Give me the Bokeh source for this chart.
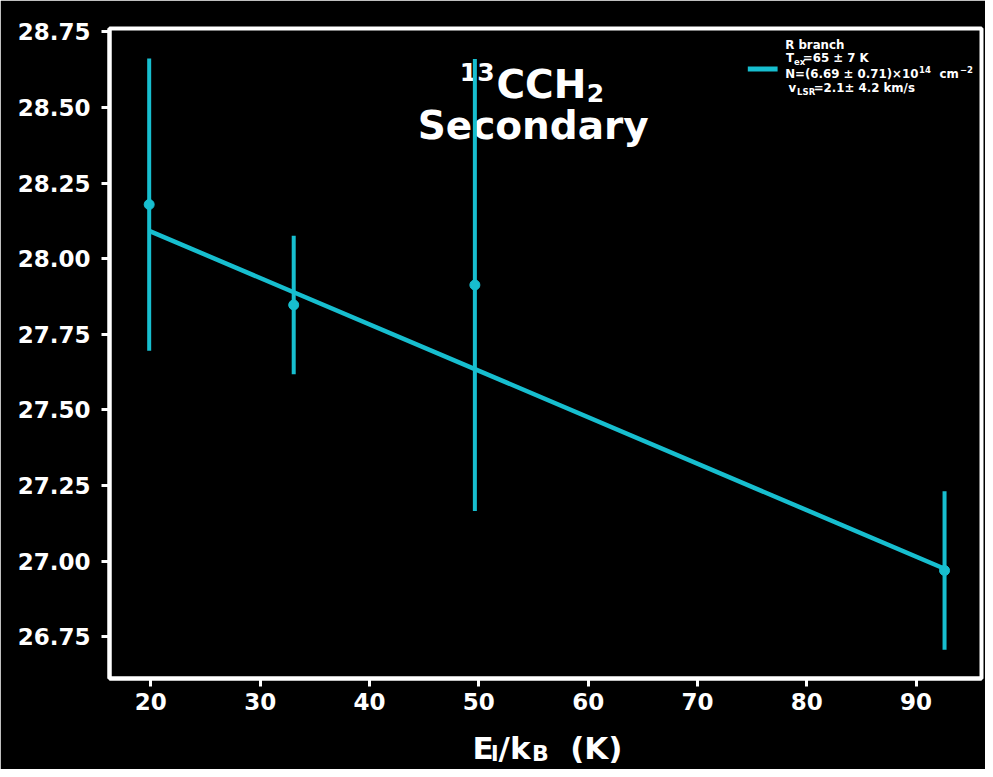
from bokeh.plotting import figure
from bokeh.models import (Label, BoxAnnotation, FixedTicker, NumeralTickFormatter,
                          ColumnDataSource, Range1d, LinearAxis)
from bokeh.embed import file_html
from bokeh.resources import INLINE

# ---- data ----
energy = [19.85, 33.07, 49.64, 92.60]          # E_l/k_B (K)
ln_val = [28.179, 27.847, 27.913, 26.969]      # y values
ln_err = [0.483, 0.229, 0.747, 0.262]          # symmetric errors
fit_val = [28.092, 27.889, 27.635, 26.975]     # fitted line at each energy
x_ticks = [20, 30, 40, 50, 60, 70, 80, 90]
y_ticks = [26.75, 27.00, 27.25, 27.50, 27.75, 28.00, 28.25, 28.50, 28.75]
# x-axis title pieces (text, position along the axis)
xlabel_main = {50.38: "E", 53.27: "/k", 60.75: "(K)"}
xlabel_sub = {51.47: "l", 55.63: "B"}

CYAN = "#17becf"
FONT = "DejaVu Sans"

src = ColumnDataSource(dict(
    x=energy, y=ln_val,
    lo=[v - e for v, e in zip(ln_val, ln_err)],
    hi=[v + e for v, e in zip(ln_val, ln_err)],
    fit=fit_val,
))

p = figure(width=985, height=769,
           x_range=Range1d(16.22, 95.98), y_range=Range1d(26.612, 28.761),
           output_backend="svg", toolbar_location=None,
           min_border_left=109, min_border_right=4,
           min_border_top=28, min_border_bottom=91)
p.background_fill_color = "black"
p.border_fill_color = "black"
p.outline_line_color = "white"
p.outline_line_width = 4
p.grid.visible = False

for ax in (p.xaxis, p.yaxis):
    ax.axis_line_color = "white"
    ax.axis_line_width = 4
    ax.major_tick_line_color = "white"
    ax.major_tick_line_width = 3
    ax.major_tick_out = 8
    ax.major_tick_in = 0
    ax.minor_tick_line_color = None
    ax.major_label_text_color = "white"
    ax.major_label_text_font = FONT
    ax.major_label_text_font_style = "bold"
    ax.major_label_text_font_size = "23px"
p.xaxis.ticker = FixedTicker(ticks=x_ticks)
p.yaxis.ticker = FixedTicker(ticks=y_ticks)
p.yaxis.formatter = NumeralTickFormatter(format="0.00")
p.xaxis.major_label_standoff = 6
p.yaxis.major_label_standoff = 11


def text_axis(pieces, size, standoff):
    a = LinearAxis(ticker=FixedTicker(ticks=list(pieces.keys())),
                   major_label_overrides=dict(pieces))
    a.axis_line_color = None
    a.major_tick_line_color = None
    a.major_tick_out = 0
    a.major_tick_in = 0
    a.minor_tick_line_color = None
    a.major_label_standoff = standoff
    a.major_label_text_color = "white"
    a.major_label_text_font = FONT
    a.major_label_text_font_style = "bold"
    a.major_label_text_font_size = size
    p.add_layout(a, "below")


# x-axis title: subscripts first, then main letters pulled up over them
text_axis(xlabel_sub, "22px", 28)
text_axis(xlabel_main, "31px", -39)


def lab(text, sx, sy, size_px, align="left", level="annotation"):
    # small empirical correction of the baseline
    p.add_layout(Label(x=sx, y=sy + 0.38 * size_px, x_units="screen", y_units="screen",
                       text=text, text_color="white", text_font=FONT,
                       text_font_style="bold", text_font_size=f"{size_px}px",
                       text_align=align, text_baseline="alphabetic", level=level))


# title (behind the error bars)
lab("13", 350.3, 596.8, 25, level="underlay")
lab("CCH", 387, 579, 39, level="underlay")
lab("2", 477.3, 575.8, 25, level="underlay")
lab("Secondary", 423.7, 537.8, 39, align="center", level="underlay")

# fit line and data
p.line("x", "fit", source=src, line_color=CYAN, line_width=4.5)
p.segment(x0="x", y0="lo", x1="x", y1="hi", source=src, line_color=CYAN, line_width=4)
p.scatter("x", "y", source=src, size=10, fill_color=CYAN, line_color=CYAN)

# legend (manual, to allow sub/superscripts)
p.add_layout(BoxAnnotation(left=638.3, right=668.1, bottom=607, top=612,
                           left_units="screen", right_units="screen",
                           bottom_units="screen", top_units="screen",
                           fill_color=CYAN, fill_alpha=1.0, line_color=None))
lab("R branch", 675.7, 629.5, 11.8)
lab("T", 676.4, 616.3, 11.8)
lab("ex", 684.6, 613.7, 8.5)
lab("=65 ± 7 K", 693.3, 616.3, 11.8)
lab("N=(6.69 ± 0.71)×10", 675.7, 600.5, 11.8)
lab("14", 809.6, 605.5, 8.5)
lab("cm", 830.1, 600.5, 11.8)
lab("−2", 850.5, 605.5, 8.5)
lab("v", 679, 586, 11.8)
lab("LSR", 687.6, 583, 8.5)
lab("=2.1± 4.2 km/s", 704.2, 586, 11.8)

open("out.html", "w").write(file_html(p, INLINE))
